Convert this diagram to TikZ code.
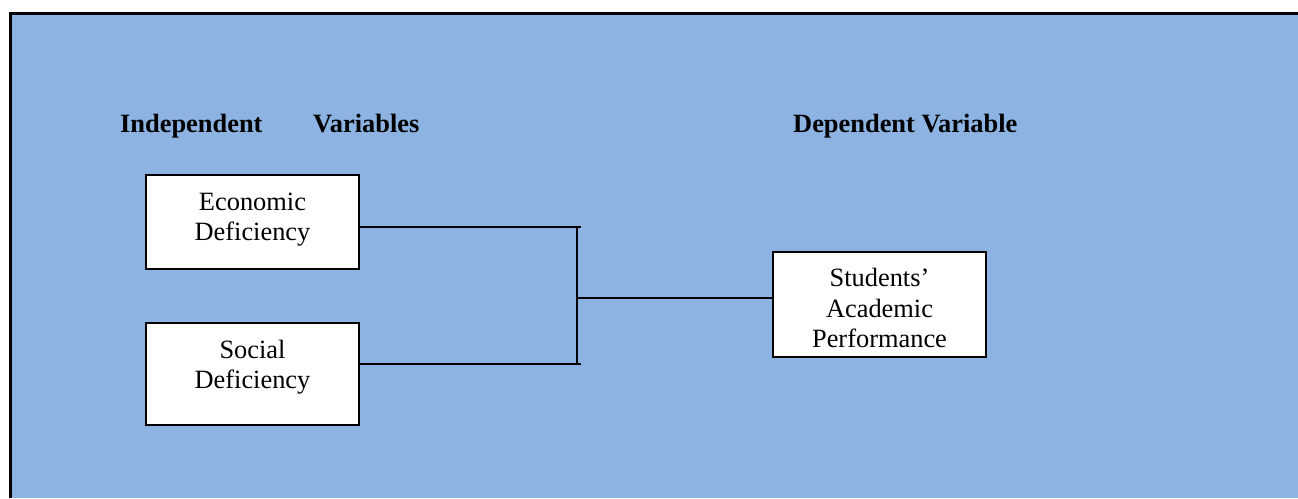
\documentclass[tikz,border=0pt]{standalone}
\usepackage{fontspec}
\setmainfont{Liberation Serif}
\definecolor{bgblue}{RGB}{141,179,226}
\begin{document}
\begin{tikzpicture}[x=1pt,y=1pt,
  box/.style={draw=black,line width=2pt,fill=white,inner sep=0pt,minimum width=213pt},
  boxtext/.style={inner sep=0pt,align=center,font=\fontsize{26.4}{30.4}\selectfont},
  head/.style={inner sep=0pt,anchor=base west,font=\fontsize{26.4}{30.4}\selectfont\bfseries},
  conn/.style={line width=2pt}]
\useasboundingbox (0,0) rectangle (1298,-498);
\fill[bgblue] (10,-13) rectangle (1298,-498);
\draw[line width=3pt] (10,-498) -- (10,-13) -- (1298,-13);
% headings
\node[head] (indep) at (120,-132) {Independent};
\node[head] (vars) at (313,-132) {Variables};
\node[head] (dep) at (793,-132) {Dependent Variable};
% boxes
\node[box,minimum height=94pt] (eco) at (252.5,-222) {};
\node[box,minimum height=102pt] (soc) at (252.5,-374) {};
\node[box,minimum height=105pt] (stu) at (879.5,-304.5) {};
\node[boxtext] (ecot) at (252.5,-219.5) {Economic\\Deficiency};
\node[boxtext] (soct) at (252.5,-367) {Social\\Deficiency};
\node[boxtext] (stut) at (879.5,-308) {Students’\\Academic\\Performance};
% connectors
\coordinate (tt) at (581,-227);
\coordinate (tb) at (581,-364);
\coordinate (vt) at (577,-227);
\coordinate (vb) at (577,-364);
\coordinate (vm) at (577,-298);
\draw[conn] ([yshift=-5pt]eco.east) -- (tt);
\draw[conn] ([yshift=10pt]soc.east) -- (tb);
\draw[conn] (vt) -- (vb);
\draw[conn] (vm) -- (stu.west |- vm);
\end{tikzpicture}
\end{document}
